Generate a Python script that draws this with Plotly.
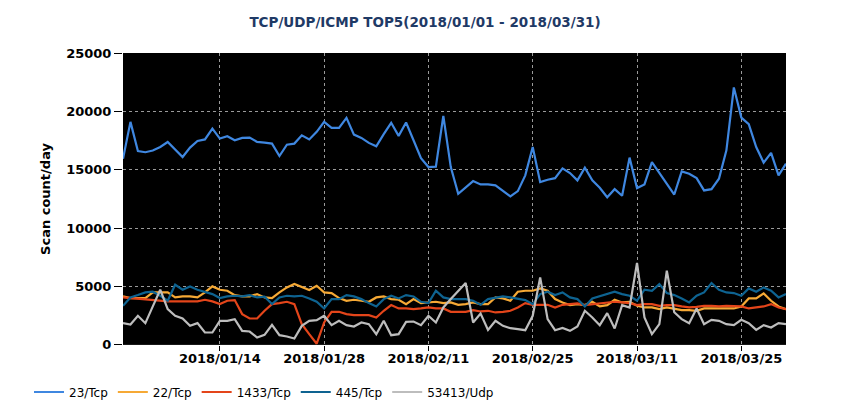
import pandas as pd
import plotly.graph_objects as go

dates = pd.date_range("2018-01-01", "2018-03-31", freq="D")

tcp23 = [15950, 19100, 16600, 16500, 16650, 16950, 17380, 16700, 16090, 16900,
         17460, 17600, 18530, 17670, 17870, 17530, 17730, 17760, 17380, 17320,
         17240, 16180, 17150, 17240, 17950, 17600, 18250, 19100, 18580, 18580,
         19440, 18010, 17730, 17300, 17010, 18050, 19020, 17900, 19050, 17530,
         16000, 15230, 15260, 19610, 15230, 12940, 13460, 14030, 13740, 13740,
         13660, 13170, 12710, 13170, 14520, 16950, 13940, 14140, 14280, 15120,
         14720, 14090, 15180, 14090, 13460, 12650, 13340, 12770, 16040, 13430,
         13740, 15660, 14720, 13740, 12880, 14860, 14660, 14280, 13230, 13340,
         14230, 16660, 22050, 19470, 18900, 16950, 15610, 16440, 14520, 15520]

tcp22 = [4152, 4009, 4009, 4009, 4496, 4496, 4496, 4066, 4152, 4152,
         4066, 4496, 5011, 4725, 4639, 4267, 4152, 4152, 4352, 4066,
         4009, 4496, 4925, 5211, 4925, 4696, 5068, 4496, 4439, 4009,
         3780, 3866, 3780, 3694, 4066, 4152, 3923, 3866, 3494, 3923,
         3580, 3637, 3694, 3580, 3637, 3436, 3494, 3637, 3494, 3494,
         4066, 3980, 3780, 4553, 4639, 4639, 4839, 4639, 3923, 3637,
         3408, 3494, 3408, 3694, 3293, 3408, 3866, 3637, 3694, 3351,
         3207, 3207, 3064, 3207, 3121, 2978, 2978, 2921, 3121, 3121,
         3064, 3064, 3121, 3293, 3980, 3980, 4410, 3780, 3293, 3064]

tcp1433 = [4066, 4009, 3923, 3866, 3780, 3723, 3723, 3723, 3723, 3723,
           3723, 3866, 3723, 3494, 3780, 3837, 2635, 2263, 2263, 2921,
           3494, 3580, 3694, 3494, 1776, 917, 100, 1919, 2835, 2835,
           2635, 2549, 2549, 2549, 2348, 2921, 3407, 3121, 3121, 3064,
           3121, 3207, 3121, 3121, 2835, 2864, 2835, 2978, 2864, 2921,
           2778, 2835, 2921, 3207, 3580, 3436, 3436, 3436, 3207, 3436,
           3494, 3551, 3408, 3494, 3580, 3637, 3694, 3637, 3580, 3408,
           3494, 3494, 3351, 3408, 3408, 3293, 3207, 3264, 3350, 3350,
           3293, 3350, 3293, 3293, 3121, 3207, 3293, 3494, 3207, 3064]

tcp445 = [3350, 4066, 4267, 4496, 4553, 4209, 3780, 5154, 4725, 5011,
          4725, 4553, 4353, 4009, 4152, 4209, 4152, 4267, 4066, 4123,
          3494, 4066, 4209, 4152, 4209, 3980, 3694, 3121, 3923, 3923,
          4267, 4152, 3923, 3580, 3293, 3923, 4209, 3980, 4267, 4152,
          3694, 3580, 4639, 4066, 3923, 3923, 3923, 3780, 3436, 3923,
          4066, 4152, 4066, 3923, 3837, 3494, 4353, 4553, 4267, 4496,
          4066, 3923, 3293, 3980, 4152, 4353, 4553, 4353, 4209, 3780,
          4725, 4639, 5211, 4439, 4267, 3980, 3637, 4209, 4496, 5297,
          4725, 4496, 4439, 4209, 4839, 4553, 4925, 4639, 4066, 4353]

udp53413 = [1862, 1747, 2492, 1862, 3300, 4725, 3064, 2492, 2263, 1633,
            1862, 1060, 1060, 2062, 2062, 2205, 1203, 1146, 631, 860,
            1719, 831, 717, 545, 1633, 2062, 2119, 2492, 1690, 2062,
            1690, 1575, 1919, 1776, 917, 2062, 831, 917, 1976, 2005,
            1690, 2492, 1919, 3207, 3923, 4640, 5300, 1919, 2692, 1289,
            2062, 1633, 1432, 1346, 1260, 2492, 5784, 2205, 1260, 1450,
            1203, 1575, 2921, 2349, 1690, 2721, 1404, 3408, 3207, 7015,
            2349, 917, 1776, 6357, 2800, 2205, 1862, 3121, 1776, 2148,
            2062, 1776, 1690, 2148, 1862, 1289, 1690, 1490, 1862, 1776]

series_names = ["23/Tcp", "22/Tcp", "1433/Tcp", "445/Tcp", "53413/Udp"]
series_values = [tcp23, tcp22, tcp1433, tcp445, udp53413]
series_colors = ["#3F87E0", "#F6A935", "#E4451A", "#0E6391", "#BDBDBD"]

tick_dates = ["2018-01-14", "2018-01-28", "2018-02-11", "2018-02-25", "2018-03-11", "2018-03-25"]
y_ticks = [0, 5000, 10000, 15000, 20000, 25000]

FONT = "DejaVu Sans"
W, H = 842, 412  # page body has an 8px margin

fig = go.Figure()
for name, vals, col in zip(series_names, series_values, series_colors):
    fig.add_trace(go.Scatter(x=dates, y=vals, name=name, mode="lines",
                             line=dict(color=col, width=2.2)))

fig.update_layout(
    width=W, height=H,
    margin=dict(l=115, r=64, t=45, b=71),
    paper_bgcolor="white",
    plot_bgcolor="black",
    font=dict(family=FONT, size=12, color="black"),
    title=dict(text="<b>TCP/UDP/ICMP TOP5(2018/01/01 - 2018/03/31)</b>",
               x=(425 - 8) / W, xanchor="center", y=1 - 14 / H, yanchor="middle",
               font=dict(family=FONT, size=13.5, color="#1F3A66")),
    showlegend=True,
    legend=dict(orientation="h", xref="container", yref="container",
                x=21 / W, y=1 - 384 / H, xanchor="left", yanchor="middle",
                font=dict(family=FONT, size=12, color="black"),
                itemwidth=30, bgcolor="rgba(0,0,0,0)"),
)

fig.update_xaxes(
    range=[dates[0], dates[-1]],
    tickvals=tick_dates,
    tickformat="%Y/%m/%d",
    ticks="outside", ticklen=5, tickcolor="black",
    ticklabelstandoff=-4,
    tickfont=dict(family=FONT, size=13, color="black", weight="bold"),
    showgrid=True, gridcolor="#9a9a9a", griddash="dot", gridwidth=1,
    showline=False, zeroline=False,
)
fig.update_yaxes(
    range=[0, 25000],
    tickvals=y_ticks,
    tickformat="d",
    ticks="outside", ticklen=8, tickcolor="black",
    tickfont=dict(family=FONT, size=13, color="black", weight="bold"),
    showgrid=True, gridcolor="#9a9a9a", griddash="dot", gridwidth=1,
    zeroline=False, showline=False,
    title=dict(text="<b>Scan count/day</b>", standoff=12,
               font=dict(family=FONT, size=13, color="black")),
)

fig.write_html("out.html")
